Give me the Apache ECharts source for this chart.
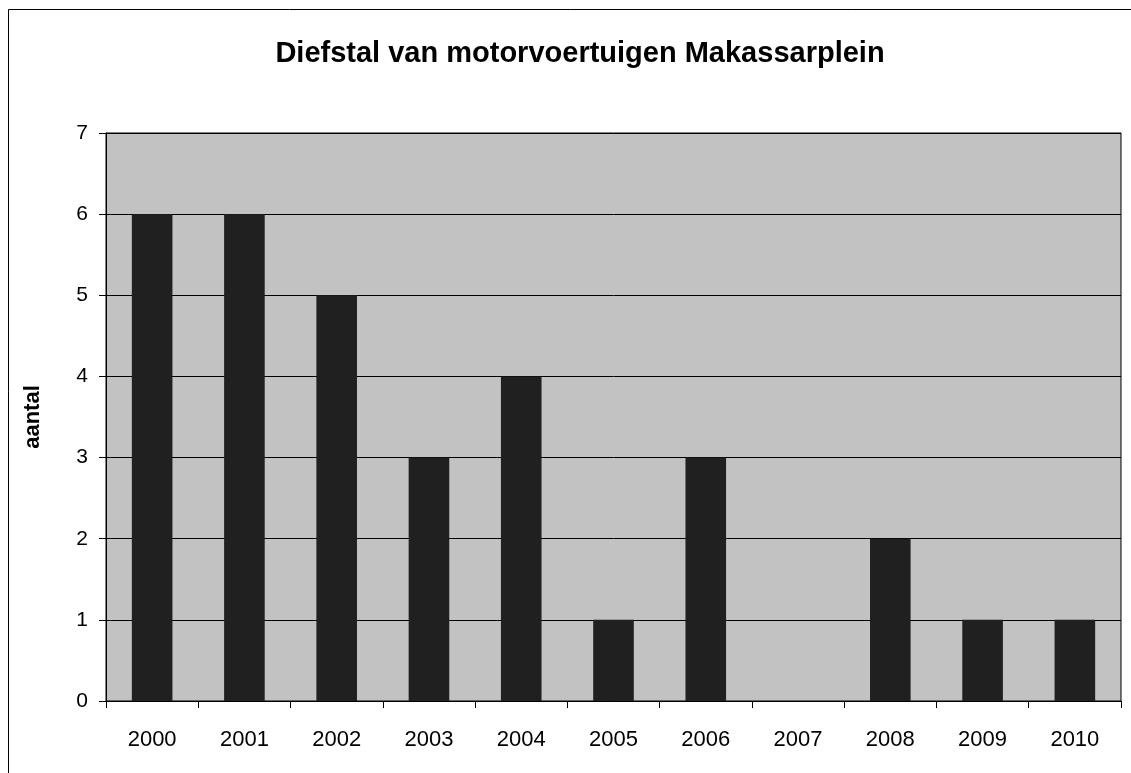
<!DOCTYPE html>
<html>
<head>
<meta charset="utf-8">
<script src="https://cdn.jsdelivr.net/npm/echarts@6/dist/echarts.min.js"></script>
<style>
  html, body { margin: 0; padding: 0; background: #fff; }
  #chart { width: 1131px; height: 773px; }
</style>
</head>
<body>
<div id="chart"></div>
<script>
// data
var years = ['2000', '2001', '2002', '2003', '2004', '2005', '2006', '2007', '2008', '2009', '2010'];
var counts = [6, 6, 5, 3, 4, 1, 3, 0, 2, 1, 1];

var chart = echarts.init(document.getElementById('chart'));

var option = {
  backgroundColor: '#fff',
  animation: false,
  textStyle: { fontFamily: 'Liberation Sans, Arial, sans-serif' },
  title: {
    text: 'Diefstal van motorvoertuigen Makassarplein',
    left: 575,
    textAlign: 'center',
    top: 34,
    textStyle: { fontSize: 29, fontWeight: 'bold', color: '#000', fontFamily: 'Liberation Sans, Arial, sans-serif' }
  },
  graphic: [{
    type: 'rect',
    shape: { x: 8.5, y: 9.5, width: 1200, height: 900 },
    style: { fill: 'none', stroke: '#000', lineWidth: 1 },
    silent: true
  }],
  grid: {
    left: 106, right: 10, top: 133, bottom: 72,
    show: true,
    backgroundColor: '#c2c2c2',
    borderColor: '#000',
    borderWidth: 1
  },
  xAxis: {
    type: 'category',
    data: years,
    axisLine: { lineStyle: { color: '#000', width: 1 } },
    axisTick: { show: true, alignWithLabel: false, length: 7, lineStyle: { color: '#000' } },
    axisLabel: { color: '#000', fontSize: 22, margin: 28 }
  },
  yAxis: {
    type: 'value',
    min: 0, max: 7, interval: 1,
    name: 'aantal',
    nameLocation: 'middle',
    nameGap: 62,
    nameTextStyle: { fontSize: 22, fontWeight: 'bold', color: '#000' },
    axisLine: { show: true, lineStyle: { color: '#000' } },
    axisTick: { show: true, length: 7, lineStyle: { color: '#000' } },
    axisLabel: { color: '#000', fontSize: 21, margin: 18 },
    splitLine: { show: true, lineStyle: { color: '#000', width: 1 } }
  },
  series: [{
    type: 'bar',
    data: counts,
    barWidth: '44%',
    itemStyle: { color: '#202020', borderWidth: 0 }
  }]
};

chart.setOption(option);
</script>
</body>
</html>
